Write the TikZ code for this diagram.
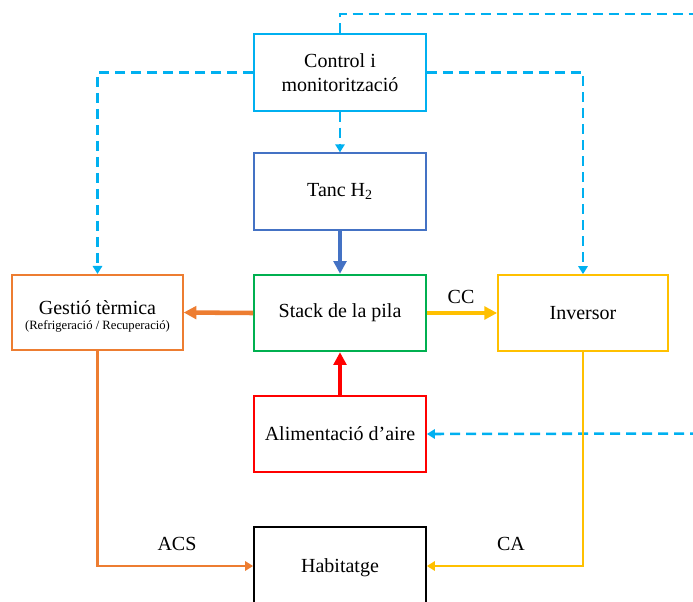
\documentclass[tikz,border=0pt]{standalone}
\usepackage{fontspec}
\setmainfont{Liberation Serif}
\usetikzlibrary{arrows.meta}
\definecolor{ccyan}{HTML}{00B0F0}
\definecolor{cblue}{HTML}{4472C4}
\definecolor{cgreen}{HTML}{00B050}
\definecolor{corange}{HTML}{ED7D31}
\definecolor{cyellow}{HTML}{FFC000}
\definecolor{cred}{HTML}{FF0000}
\begin{document}
\begin{tikzpicture}[x=0.75pt,y=-0.75pt,
  blk/.style={draw,line width=1.3pt,fill=white,inner sep=0pt,align=center,
    minimum width=129pt,minimum height=57.5pt,font=\fontsize{15}{18.5}\selectfont},
  ctl/.style={draw=ccyan,line width=1.9pt,dash pattern=on 7.5pt off 4.5pt,
    -{Triangle[length=6pt,width=7pt]}},
  ctlnoarrow/.style={draw=ccyan,line width=1.9pt,dash pattern=on 7.5pt off 4.5pt},
  flow/.style={line width=3.4pt,-{Triangle[length=9.5pt,width=9.5pt]}},
  thin/.style={line width=2.1pt,-{Triangle[length=6pt,width=7pt]}},
  lbl/.style={font=\fontsize{15}{18}\selectfont,inner sep=0pt}]
\useasboundingbox (0,0) rectangle (693,601);
\clip (0,0) rectangle (693,601);
% nodes
\node[blk,draw=ccyan] (ctrl) at (340,72.5) {Control i\\monitorització};
\node[blk,draw=cblue] (tanc) at (340,191.5) {Tanc H\textsubscript{2}};
\node[blk,draw=cgreen] (stack) at (340,313) {Stack de la pila};
\node[blk,draw=corange,minimum width=128pt,minimum height=56.5pt] (gest) at (97.5,312.5)
  {\rule{0pt}{16pt}Gestió tèrmica\\[-7.25pt]{\fontsize{9.5}{11}\selectfont(Refrigeració / Recuperació)}};
\node[blk,draw=cyellow,minimum width=127.5pt,minimum height=57pt] (inv) at (583,313) {Inversor};
\node[blk,draw=cred] (alim) at (340,434) {Alimentació d’aire};
\node[blk,draw=black,minimum height=58.5pt] (hab) at (340,566) {\rule{0pt}{13pt}Habitatge};
% free ends
\coordinate (topend) at (700,14);
\coordinate (rightend) at (700,433.5);
\coordinate (lcorner) at (97.5,72.5);
\coordinate (rcorner) at (583,72.5);
\coordinate (bl) at (97.5,566);
\coordinate (br) at (583,566);
% control lines
\draw[ctlnoarrow] (ctrl.north) |- (topend);
\draw[ctl] (ctrl.west) -- (lcorner) -- (gest.north);
\draw[ctl] (ctrl.east) -- (rcorner) -- (inv.north);
\draw[ctl] (ctrl.south) -- (tanc.north);
\draw[ctl] (rightend) -- (alim.east);
% flows
\draw[flow,cblue] (tanc.south) -- (stack.north);
\draw[flow,corange] (stack.west) -- (gest.east);
\draw[flow,cyellow] (stack.east) -- (inv.west);
\draw[flow,cred] (alim.north) -- (stack.south);
\draw[thin,corange] (gest.south) -- (bl) -- (hab.west);
\draw[thin,cyellow] (inv.south) -- (br) -- (hab.east);
% labels
\node[lbl] (cc) at (461,297) {CC};
\node[lbl] (acs) at (177,544) {ACS};
\node[lbl] (ca) at (511,544) {CA};
\end{tikzpicture}
\end{document}
